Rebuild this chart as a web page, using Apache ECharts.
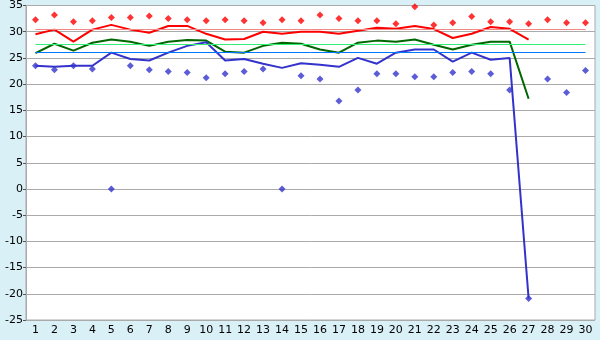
<!DOCTYPE html>
<html><head><meta charset="utf-8">
<script src="https://cdn.jsdelivr.net/npm/echarts@6/dist/echarts.min.js"></script>
<style>html,body{margin:0;padding:0;background:#DAF0F7;}#c{width:600px;height:340px;}</style>
</head><body><div id="c"></div>
<script>
const categories = Array.from({length:30},(_,i)=>String(i+1));
const maxPoints = [32.3,33.2,31.9,32.1,32.7,32.7,33.0,32.5,32.3,32.1,32.3,32.1,31.7,32.3,32.1,33.2,32.5,32.1,32.1,31.5,34.75,31.3,31.7,32.9,31.9,31.9,31.5,32.3,31.7,31.7];
const redLine = [29.5,30.4,28.1,30.4,31.3,30.4,29.8,31.1,31.1,29.6,28.5,28.6,30.0,29.6,30.0,30.0,29.6,30.2,30.75,30.55,31.1,30.5,28.8,29.6,30.9,30.55,28.5];
const greenLine = [25.9,27.7,26.4,27.9,28.5,28.1,27.3,28.1,28.4,28.3,26.2,26.0,27.3,27.9,27.7,26.6,26.0,27.9,28.3,28.1,28.5,27.5,26.6,27.5,28.1,28.1,17.2];
const blueLine = [23.5,23.3,23.5,23.5,26.0,24.8,24.5,26.0,27.3,28.0,24.5,24.8,23.9,23.1,24.0,23.7,23.3,25.0,23.9,26.0,26.6,26.6,24.3,26.0,24.65,25.0,-20.9];
const minPoints = [23.5,22.75,23.5,22.9,0,23.5,22.75,22.4,22.2,21.2,22.0,22.4,22.9,0,21.6,21.0,16.8,18.9,22.0,22.0,21.4,21.4,22.2,22.4,22.0,18.9,-20.9,21.0,18.4,22.6];
const meanRed = 30.5, meanGreen = 27.7, meanBlue = 26.0;
const yTicks = {min:-25, max:35, interval:5};

function meanLine(v,color){
  return {silent:true,symbol:'none',label:{show:false},animation:false,
    lineStyle:{color:color,width:1,type:'solid'},
    data:[[{coord:[categories[0],v]},{coord:[categories[categories.length-1],v]}]]};
}
const chart = echarts.init(document.getElementById('c'));
chart.setOption({
  animation:false,
  backgroundColor:'#DAF0F7',
  grid:{left:26,right:5,top:5,bottom:20,show:true,backgroundColor:'#ffffff',borderColor:'#aaaaaa',borderWidth:1},
  xAxis:{type:'category',data:categories,boundaryGap:true,
    axisLine:{lineStyle:{color:'#aaaaaa'}},
    axisTick:{alignWithLabel:true,length:4,lineStyle:{color:'#000'}},
    axisLabel:{color:'#000',fontFamily:'DejaVu Sans',fontSize:11,margin:5,interval:0},
    splitLine:{show:false}},
  yAxis:{type:'value',min:yTicks.min,max:yTicks.max,interval:yTicks.interval,
    axisLine:{show:true,lineStyle:{color:'#aaaaaa'}},
    axisTick:{show:true,length:3,lineStyle:{color:'#555'}},
    axisLabel:{color:'#000',fontFamily:'DejaVu Sans',fontSize:11,margin:3},
    splitLine:{lineStyle:{color:'#aaaaaa',width:1}}},
  series:[
    {type:'line',data:redLine,symbol:'none',lineStyle:{color:'#FF0000',width:2},z:3,
      markLine:meanLine(meanRed,'#F08888')},
    {type:'line',data:greenLine,symbol:'none',lineStyle:{color:'#006600',width:2},z:3,
      markLine:meanLine(meanGreen,'#33EE77')},
    {type:'line',data:blueLine,symbol:'none',lineStyle:{color:'#3333CC',width:2},z:3,
      markLine:meanLine(meanBlue,'#0077FF')},
    {type:'scatter',data:maxPoints,symbol:'diamond',symbolSize:7,itemStyle:{color:'#FF0000'},z:4},
    {type:'scatter',data:minPoints,symbol:'diamond',symbolSize:7,itemStyle:{color:'#3333CC'},z:4}
  ]
});
</script></body></html>
